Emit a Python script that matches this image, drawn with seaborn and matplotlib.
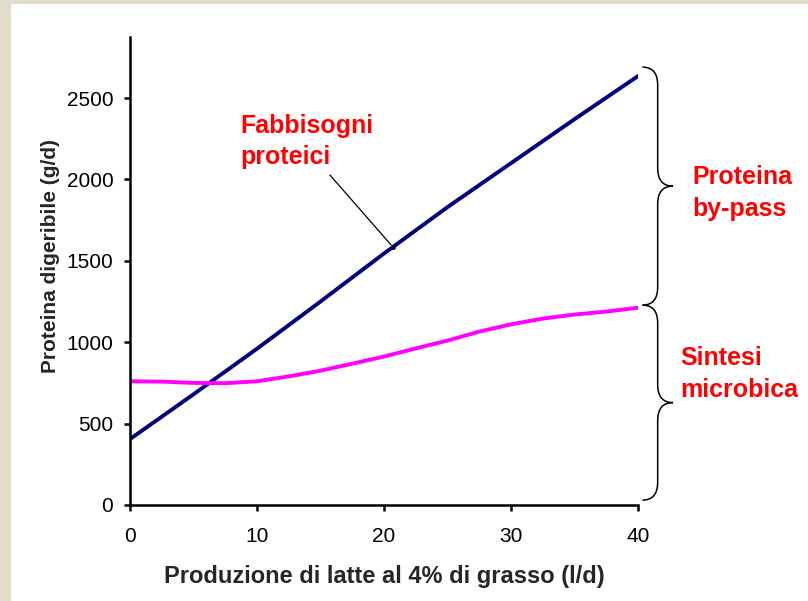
import numpy as np
import pandas as pd
import matplotlib
matplotlib.use("Agg")
import matplotlib.pyplot as plt
from matplotlib.patches import Rectangle, PathPatch
from matplotlib.path import Path
import seaborn as sns

# Milk production (l/d)
latte = [0, 5, 10, 15, 20, 25, 30, 35, 40]
# Protein requirement (g/d)
fabbisogni = [405, 680, 960, 1250, 1545, 1830, 2100, 2370, 2635]
# Microbial protein synthesis (g/d)
latte_micro = [0, 2.5, 5, 7.5, 10, 12.5, 15, 17.5, 20, 22.5, 25, 27.5, 30, 32.5, 35, 37.5, 40]
sintesi = [760, 758, 750, 748, 760, 790, 825, 868, 912, 962, 1010, 1065, 1110, 1145, 1170, 1188, 1212]

x_ticks = [0, 10, 20, 30, 40]
y_ticks = [0, 500, 1000, 1500, 2000, 2500]

sns.set_style("ticks")
plt.rcParams["font.family"] = ["Liberation Sans", "DejaVu Sans"]

fig = plt.figure(figsize=(8.08, 6.01), dpi=100)
fig.patch.set_facecolor("#e4dccb")
# white slide panel
fig.patches.append(Rectangle((11 / 808, 0), 1, 1 - 4 / 601, transform=fig.transFigure,
                             facecolor="white", edgecolor="none", zorder=-10))

ax = fig.add_axes([130 / 808, 1 - 505 / 601, 508 / 808, 468 / 601])
ax.set_facecolor("none")

df_req = pd.DataFrame({"latte": latte, "proteina": fabbisogni})
df_mic = pd.DataFrame({"latte": latte_micro, "proteina": sintesi})

sns.lineplot(data=df_req, x="latte", y="proteina", ax=ax, color="#000080", linewidth=2.8)
sns.lineplot(data=df_mic, x="latte", y="proteina", ax=ax, color="#ff00ff", linewidth=2.8)

ax.set_xlim(0, 40)
ax.set_ylim(0, 2875)
ax.set_xticks(x_ticks)
ax.set_yticks(y_ticks)
ax.tick_params(axis="both", labelsize=15, length=4, width=1.8, colors="black")
ax.tick_params(axis="x", pad=11.5)
ax.tick_params(axis="y", pad=8)
for s in ("top", "right"):
    ax.spines[s].set_visible(False)
for s in ("left", "bottom"):
    ax.spines[s].set_linewidth(1.8)
    ax.spines[s].set_color("black")

ax.set_xlabel("Produzione di latte al 4% di grasso (l/d)", fontsize=17, fontweight="bold", labelpad=14)
ax.set_ylabel("Proteina digeribile (g/d)", fontsize=15, fontweight="bold", labelpad=5)
ax.yaxis.label.set_y(0.532)

red = "#ff0000"
ax.text(8.66, 2405, "Fabbisogni\nproteici", color=red, fontsize=18, fontweight="bold",
        va="top", ha="left", linespacing=1.4)

# pointer from the label to the requirement line
x_ptr = 20.7
ax.annotate("", xy=(x_ptr, np.interp(x_ptr, latte, fabbisogni)), xytext=(15.6, 2040),
            arrowprops=dict(arrowstyle="-", color="black", lw=0.9))
ax.plot([x_ptr], [np.interp(x_ptr, latte, fabbisogni)], "o", color="black", ms=2.5)


def brace(ax, y_bottom, y_top, x0=40.35, x1=41.55, x2=42.75, r=110):
    ym = (y_top + y_bottom) / 2
    verts = [(x0, y_top), (x1, y_top), (x1, y_top - r),
             (x1, ym + r), (x1, ym), (x2, ym),
             (x1, ym), (x1, ym - r),
             (x1, y_bottom + r), (x1, y_bottom), (x0, y_bottom)]
    codes = [Path.MOVETO, Path.CURVE3, Path.CURVE3,
             Path.LINETO, Path.CURVE3, Path.CURVE3,
             Path.CURVE3, Path.CURVE3,
             Path.LINETO, Path.CURVE3, Path.CURVE3]
    ax.add_patch(PathPatch(Path(verts, codes), facecolor="none", edgecolor="black",
                           lw=1.1, clip_on=False))


brace(ax, 1228, 2690)
brace(ax, 30, 1228)

ax.text(44.3, 1915, "Proteina\nby-pass", color=red, fontsize=18, fontweight="bold",
        va="center", ha="left", linespacing=1.4, clip_on=False)
ax.text(43.3, 805, "Sintesi\nmicrobica", color=red, fontsize=18, fontweight="bold",
        va="center", ha="left", linespacing=1.4, clip_on=False)

fig.savefig("out.png", dpi=100, facecolor=fig.get_facecolor())
